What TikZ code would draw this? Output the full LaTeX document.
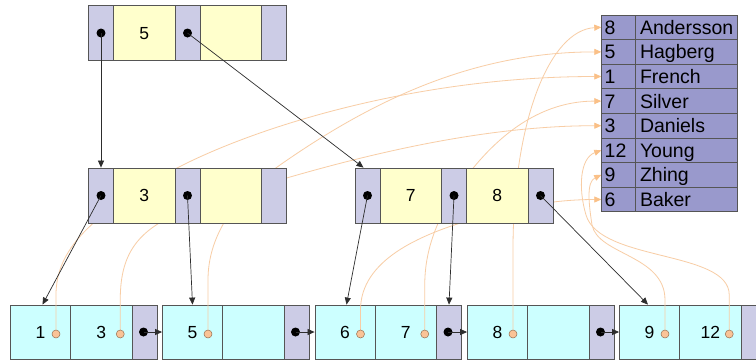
\documentclass[tikz,border=0pt]{standalone}
\usepackage{fontspec}
\setmainfont{Liberation Sans}
\usetikzlibrary{arrows.meta,calc}
\definecolor{ptrcol}{RGB}{204,204,230}
\definecolor{keycol}{RGB}{255,255,204}
\definecolor{leafcol}{RGB}{204,255,255}
\definecolor{tabcol}{RGB}{153,153,204}
\definecolor{bordcol}{RGB}{85,85,85}
\definecolor{curvecol}{RGB}{248,205,165}
\definecolor{tipcol}{RGB}{250,192,135}
\definecolor{odotcol}{RGB}{250,195,150}
\definecolor{odotbord}{RGB}{150,110,80}
\definecolor{arrcol}{RGB}{45,45,45}
\pgfdeclarelayer{bg}
\pgfdeclarelayer{mid}
\pgfsetlayers{bg,mid,main}
\begin{document}
\begin{tikzpicture}[x=1pt,y=-1pt,
  cell/.style={draw=bordcol, line width=0.8pt, inner sep=0pt, minimum height=55pt,
    font=\fontsize{17.5}{17.5}\selectfont, text height=12.5pt, text depth=0pt},
  ptr/.style={cell, fill=ptrcol, minimum width=25pt},
  key/.style={cell, fill=keycol, minimum width=61.5pt},
  lptr/.style={ptr, minimum height=54pt},
  lkey/.style={cell, fill=leafcol, minimum height=54pt, minimum width=#1},
  tabcell/.style={draw=bordcol, line width=0.8pt, fill=tabcol, minimum height=24.6pt,
    inner ysep=0pt, align=left, font=\fontsize{19.5}{19.5}\selectfont,
    text height=14pt, text depth=0pt},
  tabnum/.style={tabcell, inner xsep=3pt, text width=27.3pt},
  tabname/.style={tabcell, inner xsep=5pt, text width=92.7pt},
  bdot/.style={circle, fill=black, inner sep=0pt, minimum size=9pt},
  odot/.style={circle, fill=odotcol, draw=odotbord, line width=0.5pt, inner sep=0pt, minimum size=8pt},
  arr/.style={draw=arrcol, line width=0.7pt, -{Triangle[length=7pt,width=6pt]}},
  ocurve/.style={draw=curvecol, line width=0.8pt, -{Triangle[length=7pt,width=6pt,color=tipcol]}}
]
\useasboundingbox (0,0) rectangle (756,360);

% leaves
\begin{pgfonlayer}{bg}
\fill[white] (0,0) rectangle (756,360);
\node[lkey=60pt]   (l1a) at (40.5,332) {1};
\node[lkey=61.5pt] (l1b) at (101.25,332) {3};
\node[lptr]        (l1p) at (144.5,332) {};
\node[lkey=60pt]   (l2a) at (192.5,332) {5};
\node[lkey=61.5pt] (l2b) at (253.25,332) {};
\node[lptr]        (l2p) at (296.5,332) {};
\node[lkey=60pt]   (l3a) at (345,332) {6};
\node[lkey=61.5pt] (l3b) at (405.75,332) {7};
\node[lptr]        (l3p) at (449,332) {};
\node[lkey=60pt]   (l4a) at (497.5,332) {8};
\node[lkey=61.5pt] (l4b) at (558.25,332) {};
\node[lptr]        (l4p) at (601.5,332) {};
\node[lkey=60pt]   (l5a) at (649.5,332) {9};
\node[lkey=61.5pt] (l5b) at (710.25,332) {12};
\node[lptr]        (l5p) at (753.5,332) {};
\end{pgfonlayer}

% root
\node[ptr] (rp0) at (101,33) {};
\node[key] (rk0) at (144.25,33) {5};
\node[ptr] (rp1) at (187.5,33) {};
\node[key] (rk1) at (230.75,33) {};
\node[ptr] (rp2) at (274,33) {};

% left internal
\node[ptr] (ap0) at (101,195.5) {};
\node[key] (ak0) at (144.25,195.5) {3};
\node[ptr] (ap1) at (187.5,195.5) {};
\node[key] (ak1) at (230.75,195.5) {};
\node[ptr] (ap2) at (274,195.5) {};

% right internal
\node[ptr] (bp0) at (367.5,195.5) {};
\node[key] (bk0) at (410.75,195.5) {7};
\node[ptr] (bp1) at (454,195.5) {};
\node[key] (bk1) at (497.25,195.5) {8};
\node[ptr] (bp2) at (540.5,195.5) {};

% table
\foreach \i/\n/\nm in {1/8/Andersson,2/5/Hagberg,3/1/French,4/7/Silver,5/3/Daniels,6/12/Young,7/9/Zhing,8/6/Baker}{
  \node[tabnum]  (tn\i) at (618.35,{15+24.6*(\i-0.5)}) {\n};
  \node[tabname] (tm\i) at (686.35,{15+24.6*(\i-0.5)}) {\nm};
}

% pointer dots
\node[bdot] (rd0) at (rp0) {};
\node[bdot] (rd1) at (rp1) {};
\node[bdot] (ad0) at (ap0) {};
\node[bdot] (ad1) at (ap1) {};
\node[bdot] (bd0) at (bp0) {};
\node[bdot] (bd1) at (bp1) {};
\node[bdot] (bd2) at (bp2) {};
\node[bdot] (ld1) at ([xshift=-1pt]l1p.center) {};
\node[bdot] (ld2) at ([xshift=-1pt]l2p.center) {};
\node[bdot] (ld3) at ([xshift=-1pt]l3p.center) {};
\node[bdot] (ld4) at ([xshift=-1pt]l4p.center) {};

% record dots
\node[odot] (o1)  at ($(l1a.center)+(15.5,2)$) {};
\node[odot] (o3)  at ($(l1b.center)+(19,2)$) {};
\node[odot] (o5)  at ($(l2a.center)+(15.5,2)$) {};
\node[odot] (o6)  at ($(l3a.center)+(15.5,2)$) {};
\node[odot] (o7)  at ($(l3b.center)+(19,2)$) {};
\node[odot] (o8)  at ($(l4a.center)+(15.5,2)$) {};
\node[odot] (o9)  at ($(l5a.center)+(15.5,2)$) {};
\node[odot] (o12) at ($(l5b.center)+(19,2)$) {};

% record curves
\begin{pgfonlayer}{mid}
\draw[ocurve] (o1.center) -- (56,295) .. controls (56,250) and (90,215) .. (177,168) .. controls (260,125) and (420,76.5) .. (tn3.west);
\draw[ocurve] (o3.center) -- (120.25,300) .. controls (120.25,250) and (140,225) .. (200,205) .. controls (330,162) and (470,125.7) .. (tn5.west);
\draw[ocurve] (o5.center) -- (208,280) .. controls (208,240) and (230,200) .. (280,165) .. controls (380,95) and (480,51.9) .. (tn2.west);
\draw[ocurve] (o6.center) -- (360.5,310) .. controls (360.5,260) and (420,235) .. (470,220) .. controls (520,205) and (560,199.5) .. (tn8.west);
\draw[ocurve] (o7.center) -- (424.75,285) .. controls (424.75,240) and (445,200) .. (480,160) .. controls (520,115) and (560,101.1) .. (tn4.west);
\draw[ocurve] (o8.center) -- (513,250) .. controls (513,120) and (550,30) .. (tn1.west);
\draw[ocurve] (o9.center) -- (665,300) .. controls (665,255) and (598,255) .. (592,225) .. controls (589,205) and (586,182) .. (tn7.west);
\draw[ocurve] (o12.center) -- (729.25,295) .. controls (729.25,250) and (600,262) .. (586,215) .. controls (578,188) and (580,158) .. (tn6.west);
\end{pgfonlayer}

% tree pointers
\draw[arr] (rd0.center) -- (ap0.north);
\draw[arr] (rd1.center) -- ([xshift=-4pt]bp0.north);
\draw[arr] (ad0.center) -- ([xshift=2pt]l1a.north);
\draw[arr] (ad1.center) -- (l2a.north);
\draw[arr] (bd0.center) -- ([xshift=1.5pt]l3a.north);
\draw[arr] (bd1.center) -- (l3p.north);
\draw[arr] (bd2.center) -- ([xshift=-1.5pt]l5a.north);
\draw[arr] (ld1.center) -- (l2a.west);
\draw[arr] (ld2.center) -- (l3a.west);
\draw[arr] (ld3.center) -- (l4a.west);
\draw[arr] (ld4.center) -- (l5a.west);
\end{tikzpicture}
\end{document}
